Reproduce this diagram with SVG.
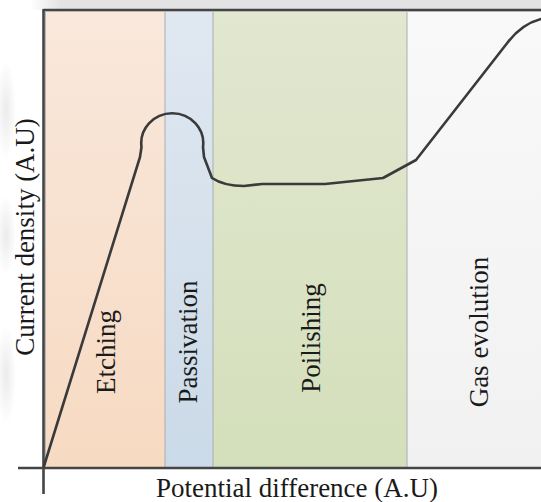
<svg xmlns="http://www.w3.org/2000/svg" width="541" height="502" viewBox="0 0 541 502">
  <style>
    .lbl { font-family: "Liberation Serif", "Times New Roman", serif; font-size: 27px; fill: #1a1a1a; }
    .div { stroke: #a9adb2; stroke-width: 1; }
    .axis { stroke: #454545; stroke-width: 2.6; fill: none; }
    .curve { stroke: #3a3a3a; stroke-width: 2.6; fill: none; stroke-linejoin: round; stroke-linecap: round; }
  </style>
  <defs>
    <linearGradient id="gEtch" x1="0" y1="0" x2="0" y2="1">
      <stop offset="0" stop-color="#f9e8dc"/>
      <stop offset="1" stop-color="#f7dac2"/>
    </linearGradient>
    <linearGradient id="gPass" x1="0" y1="0" x2="0" y2="1">
      <stop offset="0" stop-color="#e0e8f1"/>
      <stop offset="1" stop-color="#cbdae8"/>
    </linearGradient>
    <linearGradient id="gPol" x1="0" y1="0" x2="0" y2="1">
      <stop offset="0" stop-color="#e2e7d0"/>
      <stop offset="1" stop-color="#d4dfbb"/>
    </linearGradient>
    <linearGradient id="gGas" x1="0" y1="0" x2="0" y2="1">
      <stop offset="0" stop-color="#f9f9f9"/>
      <stop offset="1" stop-color="#f1f1f1"/>
    </linearGradient>
    <linearGradient id="gTop" x1="0" y1="0" x2="1" y2="0">
      <stop offset="0" stop-color="#e3e3e3" stop-opacity="0"/>
      <stop offset="0.06" stop-color="#e3e3e3" stop-opacity="1"/>
      <stop offset="1" stop-color="#e3e3e3" stop-opacity="1"/>
    </linearGradient>
    <radialGradient id="gBlob">
      <stop offset="0" stop-color="#e6e6e6" stop-opacity="0.8"/>
      <stop offset="1" stop-color="#e6e6e6" stop-opacity="0"/>
    </radialGradient>
  </defs>

  <rect x="0" y="0" width="541" height="502" fill="#ffffff"/>
  <rect x="30" y="0" width="511" height="10" fill="url(#gTop)"/>
  <ellipse cx="6" cy="110" rx="10" ry="50" fill="url(#gBlob)"/>
  <ellipse cx="6" cy="235" rx="10" ry="40" fill="url(#gBlob)"/>
  <ellipse cx="6" cy="375" rx="10" ry="50" fill="url(#gBlob)"/>

  <g id="etching">
    <rect x="44" y="10" width="121" height="458" fill="url(#gEtch)"/>
    <text class="lbl" transform="translate(115,352) rotate(-90)" text-anchor="middle">Etching</text>
  </g>
  <g id="passivation">
    <rect x="165" y="10" width="48" height="458" fill="url(#gPass)"/>
    <text class="lbl" transform="translate(197,342) rotate(-90)" text-anchor="middle">Passivation</text>
  </g>
  <g id="polishing">
    <rect x="213" y="10" width="194" height="458" fill="url(#gPol)"/>
    <text class="lbl" transform="translate(320,338) rotate(-90)" text-anchor="middle">Poilishing</text>
  </g>
  <g id="gas-evolution">
    <rect x="407" y="10" width="134" height="458" fill="url(#gGas)"/>
    <text class="lbl" transform="translate(488,332) rotate(-90)" text-anchor="middle">Gas evolution</text>
  </g>

  <g id="dividers">
    <line class="div" x1="165" y1="11" x2="165" y2="467"/>
    <line class="div" x1="213" y1="11" x2="213" y2="467"/>
    <line class="div" x1="407" y1="11" x2="407" y2="467" stroke="#979e8a"/>
  </g>

  <g id="axes">
    <line class="axis" x1="43.5" y1="10" x2="541" y2="10" stroke="#555555"/>
    <line x1="44" y1="11.5" x2="541" y2="11.5" stroke="#b5b5b5" stroke-width="1"/>
    <line x1="45.5" y1="11" x2="45.5" y2="466" stroke="#b5b5b5" stroke-width="1"/>
    <line class="axis" x1="43.5" y1="9" x2="43.5" y2="494"/>
    <line class="axis" x1="18" y1="468" x2="541" y2="468"/>
  </g>

  <g id="connectors">
    <path class="curve" d="M44,466 L140,157 L141.5,147 A31,30 0 1 1 203,147 L204,157 L212,178 Q224,186 244,186 L262,184 L325,184 L383,178 L416,160 L508,42 Q522,24 541,19"/>
  </g>

  <g id="axis-labels">
    <text class="lbl" transform="translate(34,237) rotate(-90)" text-anchor="middle">Current density (A.U)</text>
    <text class="lbl" x="297" y="497" text-anchor="middle">Potential difference (A.U)</text>
  </g>
</svg>
